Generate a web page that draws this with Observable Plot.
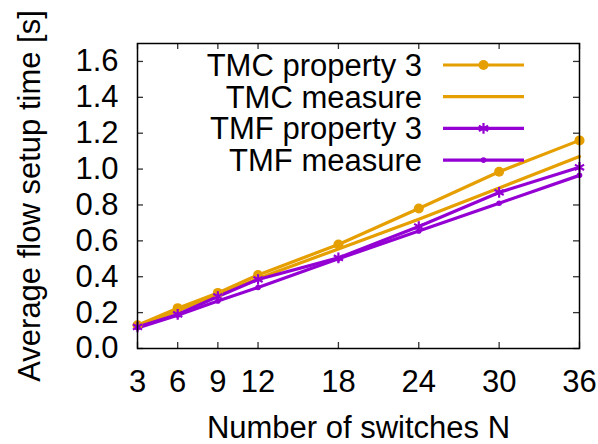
<!DOCTYPE html>
<html>
<head>
<meta charset="utf-8">
<script src="https://cdn.jsdelivr.net/npm/d3@7"></script>
<script src="https://cdn.jsdelivr.net/npm/@observablehq/plot@0.6"></script>
<style>
  html, body { margin: 0; padding: 0; background: #fff; }
  #chart { width: 598px; height: 444px; }
</style>
</head>
<body>
<div id="chart"></div>
<script>
// ---- data ----
const switches = [3, 6, 9, 12, 18, 24, 30, 36];
const tmcProperty3 = [0.13, 0.225, 0.31, 0.41, 0.58, 0.78, 0.985, 1.16];
const tmcMeasure   = [0.12, 0.21, 0.30, 0.39, 0.555, 0.72, 0.895, 1.07];
const tmfProperty3 = [0.12, 0.19, 0.29, 0.385, 0.505, 0.68, 0.87, 1.01];
const tmfMeasure   = [0.115, 0.185, 0.265, 0.34, 0.50, 0.655, 0.81, 0.965];
const seriesNames  = ["TMC property 3", "TMC measure", "TMF property 3", "TMF measure"];
const seriesValues = [tmcProperty3, tmcMeasure, tmfProperty3, tmfMeasure];
const seriesColors = ["#e69f00", "#e69f00", "#9400d3", "#9400d3"];
const seriesSymbols = ["circle", null, "asterisk", "dot"];
const xTicks = [3, 6, 9, 12, 18, 24, 30, 36];
const yTicks = [0, 0.2, 0.4, 0.6, 0.8, 1.0, 1.2, 1.4, 1.6];
const xLabel = "Number of switches N";
const yLabel = "Average flow setup time [s]";

// ---- layout ----
const W = 598, H = 444;
const mL = 137, mR = 19, mT = 43, mB = 96;
const innerW = W - mL - mR, innerH = H - mT - mB;
const FONT = "Liberation Sans, Arial, Helvetica, sans-serif";
const FS = 31;
const tickLen = 6;

const rows = [];
seriesNames.forEach((name, i) => {
  switches.forEach((n, j) => rows.push({series: name, n, t: seriesValues[i][j]}));
});
const colorOf = name => seriesColors[seriesNames.indexOf(name)];

const plot = Plot.plot({
  width: W,
  height: H,
  marginLeft: mL,
  marginRight: mR,
  marginTop: mT,
  marginBottom: mB,
  style: {fontFamily: FONT, fontSize: FS + "px", background: "white", color: "black"},
  x: {domain: [3, 36]},
  y: {domain: [0, 1.7]},
  marks: [
    // inward ticks
    Plot.tickX(xTicks, {x: d => d, insetTop: innerH - tickLen, stroke: "#333", strokeWidth: 1.3}),
    Plot.tickX(xTicks, {x: d => d, insetBottom: innerH - tickLen, stroke: "#333", strokeWidth: 1.3}),
    Plot.tickY(yTicks, {y: d => d, insetRight: innerW - tickLen, stroke: "#333", strokeWidth: 1.3}),
    Plot.tickY(yTicks, {y: d => d, insetLeft: innerW - tickLen, stroke: "#333", strokeWidth: 1.3}),
    Plot.axisX({ticks: xTicks, tickSize: 0, tickPadding: 21, label: null, fontSize: FS}),
    Plot.axisY({ticks: yTicks, tickSize: 0, tickPadding: 19, label: null, tickFormat: d3.format(".1f"), fontSize: FS}),
    // lines
    ...seriesNames.map(name => Plot.line(rows.filter(r => r.series === name), {
      x: "n", y: "t", stroke: colorOf(name), strokeWidth: 3.2
    })),
    // markers
    Plot.dot(rows.filter(r => r.series === "TMC property 3"), {x: "n", y: "t", r: 5, fill: colorOf("TMC property 3")}),
    Plot.dot(rows.filter(r => r.series === "TMF property 3"), {x: "n", y: "t", r: 5, symbol: "asterisk", stroke: colorOf("TMF property 3"), strokeWidth: 2.2}),
    Plot.dot(rows.filter(r => r.series === "TMF measure"), {x: "n", y: "t", r: 2.8, fill: colorOf("TMF measure")}),
    Plot.frame({stroke: "black", strokeWidth: 1.5}),
    // axis titles
    Plot.text([xLabel], {text: d => d, frameAnchor: "bottom", dy: 80, fontSize: FS, fill: "black", lineAnchor: "middle", textAnchor: "middle"}),
    Plot.text([yLabel], {text: d => d, frameAnchor: "left", dx: -107, rotate: -90, fontSize: FS, fill: "black", lineAnchor: "middle", textAnchor: "middle"})
  ]
});
document.getElementById("chart").appendChild(plot);

// ---- in-plot legend (gnuplot style: key at top, text right-aligned, sample to the right) ----
const svg = d3.select(plot);
const legend = svg.append("g").attr("font-family", FONT).attr("font-size", FS);
const textRight = 422, lineX1 = 443, lineX2 = 524, rowY0 = 65, rowStep = 31.7;
seriesNames.forEach((name, i) => {
  const y = rowY0 + i * rowStep;
  legend.append("text").attr("x", textRight).attr("y", y).attr("dy", "0.35em")
    .attr("text-anchor", "end").attr("fill", "black").text(name);
  legend.append("line").attr("x1", lineX1).attr("x2", lineX2).attr("y1", y).attr("y2", y)
    .attr("stroke", seriesColors[i]).attr("stroke-width", 3.2);
  const sym = seriesSymbols[i];
  const cx = (lineX1 + lineX2) / 2;
  if (sym === "circle") {
    legend.append("circle").attr("cx", cx).attr("cy", y).attr("r", 5).attr("fill", seriesColors[i]);
  } else if (sym === "asterisk") {
    legend.append("path").attr("transform", `translate(${cx},${y})`)
      .attr("d", d3.symbol(d3.symbolAsterisk, 80)()).attr("stroke", seriesColors[i]).attr("stroke-width", 2.2).attr("fill", "none");
  } else if (sym === "dot") {
    legend.append("circle").attr("cx", cx).attr("cy", y).attr("r", 2.8).attr("fill", seriesColors[i]);
  }
});
</script>
</body>
</html>
